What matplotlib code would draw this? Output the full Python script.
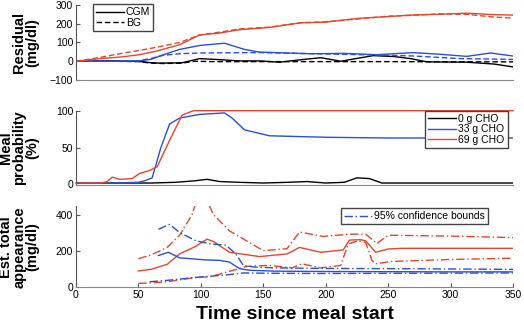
import numpy as np
import matplotlib
matplotlib.use("Agg")
import matplotlib.pyplot as plt

plt.rcParams['font.family'] = ['Liberation Sans', 'DejaVu Sans']

RED = '#e8452c'
BLUE = '#2a4fd8'
BLACK = '#000000'

# ---- Panel 1: residual (mg/dl) ----
res_0_cgm_x = [0, 30, 50, 59, 67, 85, 99, 111, 131, 147, 163, 180, 196, 212, 225, 238, 255, 268, 281, 313, 335, 350]
res_0_cgm_y = [0, 2, 0, -7, -10, -8, 14, 10, 2, 2, -5, 8, 19, 0, 15, 30, 25, 14, -3, -5, -15, -30]
res_0_bg_x = [0, 30, 50, 60, 70, 85, 95, 110, 150, 200, 250, 300, 350]
res_0_bg_y = [0, 0, -2, -10, -12, -10, 0, -2, -2, -2, -2, -3, -3]
res_33_cgm_x = [0, 30, 50, 60, 70, 83, 99, 119, 135, 147, 165, 188, 215, 241, 270, 290, 313, 332, 350]
res_33_cgm_y = [0, 0, 2, 10, 35, 63, 84, 96, 63, 49, 45, 40, 42, 35, 46, 38, 26, 44, 28]
res_33_bg_x = [0, 30, 50, 60, 70, 83, 99, 120, 147, 190, 228, 270, 308, 350]
res_33_bg_y = [0, 0, 2, 15, 32, 40, 44, 45, 46, 40, 35, 28, 14, 10]
res_69_cgm_x = [0, 19, 35, 51, 65, 83, 99, 115, 131, 155, 180, 200, 225, 250, 268, 290, 313, 335, 350]
res_69_cgm_y = [0, 14, 22, 35, 55, 88, 140, 150, 168, 180, 205, 208, 228, 238, 246, 250, 256, 248, 246]
res_69_bg_x = [0, 19, 35, 51, 65, 83, 99, 115, 131, 155, 180, 200, 225, 250, 268, 290, 313, 335, 350]
res_69_bg_y = [0, 20, 40, 58, 75, 100, 140, 155, 172, 182, 205, 210, 225, 240, 244, 252, 250, 235, 230]

# ---- Panel 2: meal probability (%) ----
prob_0_x = [0, 60, 80, 95, 105, 115, 130, 150, 170, 185, 200, 215, 225, 235, 245, 260, 300, 350]
prob_0_y = [2, 2, 3, 5, 7, 4, 3, 2, 3, 4, 2, 3, 9, 8, 2, 2, 2, 2]
prob_33_x = [0, 30, 50, 55, 61, 68, 75, 83, 99, 119, 125, 135, 155, 200, 250, 300, 350]
prob_33_y = [2, 2, 3, 5, 9, 50, 82, 90, 95, 97, 90, 74, 66, 64, 63, 63, 63]
prob_69_x = [0, 20, 25, 29, 35, 45, 51, 59, 65, 75, 85, 94, 100, 350]
prob_69_y = [2, 2, 4, 10, 7, 8, 15, 19, 24, 60, 94, 100, 100, 100]

# ---- Panel 3: estimated total appearance (mg/dl) ----
app_69_x = [50, 60, 73, 83, 95, 105, 110, 123, 147, 169, 179, 196, 214, 219, 228, 232, 240, 250, 260, 350]
app_69_y = [91, 100, 128, 186, 225, 268, 255, 195, 171, 186, 222, 195, 208, 263, 265, 259, 195, 213, 217, 217]
app_69_hi_x = [50, 60, 73, 83, 93, 100, 110, 123, 150, 169, 179, 198, 219, 232, 241, 250, 300, 350]
app_69_hi_y = [159, 180, 222, 290, 405, 560, 405, 314, 204, 215, 308, 283, 296, 296, 244, 290, 285, 277]
app_69_lo_x = [50, 60, 73, 96, 107, 123, 137, 155, 173, 181, 196, 212, 218, 226, 232, 237, 240, 253, 300, 350]
app_69_lo_y = [22, 25, 31, 55, 58, 89, 117, 122, 108, 131, 108, 122, 241, 259, 250, 150, 131, 144, 155, 162]
app_33_x = [66, 74, 83, 103, 115, 123, 131, 139, 160, 200, 250, 300, 350]
app_33_y = [177, 195, 164, 153, 150, 140, 104, 95, 90, 88, 87, 86, 86]
app_33_hi_x = [66, 75, 83, 96, 108, 120, 128, 134, 142, 160, 200, 250, 300, 350]
app_33_hi_y = [323, 350, 305, 259, 241, 235, 186, 122, 113, 108, 105, 104, 102, 100]
app_33_lo_x = [59, 75, 96, 123, 134, 160, 200, 250, 300, 350]
app_33_lo_y = [31, 40, 55, 71, 80, 78, 77, 78, 79, 80]

fig = plt.figure(figsize=(5.24, 3.28), dpi=100)
ax1 = fig.add_axes([0.145, 0.756, 0.834, 0.229])
ax2 = fig.add_axes([0.145, 0.4375, 0.834, 0.225])
ax3 = fig.add_axes([0.145, 0.124, 0.834, 0.2466])

lw = 1.0
leg_kw = dict(fontsize=7.5, handlelength=2.7, handletextpad=0.2, borderpad=0.3,
              labelspacing=0.05, fancybox=False, edgecolor='#444444', framealpha=1,
              borderaxespad=0)

# panel 1
ax1.plot(res_0_cgm_x, res_0_cgm_y, color=BLACK, lw=lw, label='CGM')
ax1.plot(res_0_bg_x, res_0_bg_y, color=BLACK, lw=lw, ls=(0, (4, 2)), label='BG')
ax1.plot(res_33_cgm_x, res_33_cgm_y, color=BLUE, lw=lw)
ax1.plot(res_33_bg_x, res_33_bg_y, color=BLUE, lw=lw, ls=(0, (4, 2)))
ax1.plot(res_69_cgm_x, res_69_cgm_y, color=RED, lw=lw)
ax1.plot(res_69_bg_x, res_69_bg_y, color=RED, lw=lw, ls=(0, (4, 2)))
ax1.set_ylim(-100, 300)
ax1.set_yticks([-100, 0, 100, 200, 300])
ax1.set_xticks([])
ax1.legend(loc='upper left', bbox_to_anchor=(0.038, 1.01), **leg_kw)

# panel 2
ax2.plot(prob_0_x, prob_0_y, color=BLACK, lw=lw, label='0 g CHO')
ax2.plot(prob_33_x, prob_33_y, color=BLUE, lw=lw, label='33 g CHO')
ax2.plot(prob_69_x, prob_69_y, color=RED, lw=lw, label='69 g CHO', clip_on=False)
ax2.set_ylim(0, 100)
ax2.set_yticks([0, 50, 100])
ax2.set_xticks([])
ax2.legend(loc='upper right', bbox_to_anchor=(0.988, 1.0), **leg_kw)

# panel 3
dd = (0, (6, 2, 1, 2))
ax3.plot(app_69_x, app_69_y, color=RED, lw=lw)
ax3.plot(app_69_hi_x, app_69_hi_y, color=RED, lw=lw, ls=dd)
ax3.plot(app_69_lo_x, app_69_lo_y, color=RED, lw=lw, ls=dd)
ax3.plot(app_33_x, app_33_y, color=BLUE, lw=lw)
ax3.plot(app_33_hi_x, app_33_hi_y, color=BLUE, lw=lw, ls=dd, label='95% confidence bounds')
ax3.plot(app_33_lo_x, app_33_lo_y, color=BLUE, lw=lw, ls=dd)
ax3.set_ylim(0, 450)
ax3.set_yticks([0, 200, 400])
ax3.set_xticks(np.arange(0, 351, 50))
ax3.legend(loc='upper right', bbox_to_anchor=(0.943, 0.98), **leg_kw)
ax3.set_xlabel('Time since meal start', fontsize=14, fontweight='bold', labelpad=4)

for ax in (ax1, ax2, ax3):
    ax.set_xlim(0, 350)
    ax.spines['top'].set_visible(False)
    ax.spines['right'].set_visible(False)
    ax.spines['left'].set_color('#555555')
    ax.spines['bottom'].set_color('#888888')
    ax.tick_params(direction='in', length=3, labelsize=7.5, color='#555555', pad=2)

ylab_kw = dict(fontsize=10.5, fontweight='bold', linespacing=0.95)
ax1.set_ylabel('Residual\n(mg/dl)', **ylab_kw)
ax2.set_ylabel('Meal\nprobability\n(%)', **ylab_kw)
ax3.set_ylabel('Est. total\nappearance\n(mg/dl)', **ylab_kw)
for ax in (ax1, ax2, ax3):
    ax.yaxis.set_label_coords(-0.083, 0.5)

fig.savefig('out.png', dpi=100)
